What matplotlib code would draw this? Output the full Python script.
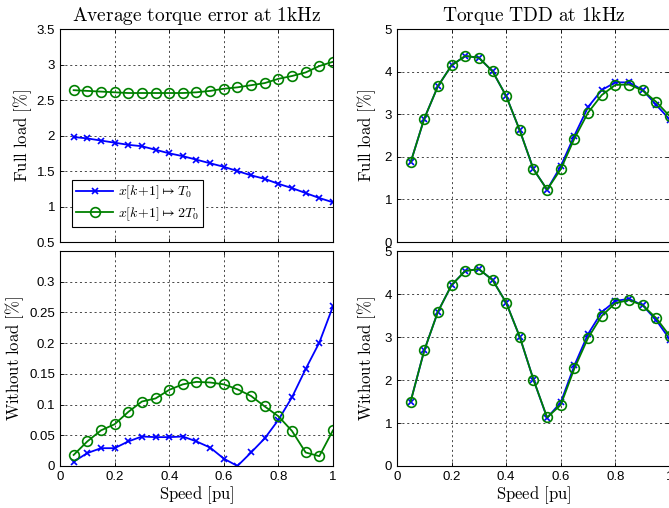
import matplotlib as mpl
import matplotlib.pyplot as plt
from matplotlib.ticker import FormatStrFormatter

# speed points [pu]
speed = [0.05, 0.10, 0.15, 0.20, 0.25, 0.30, 0.35, 0.40, 0.45, 0.50,
         0.55, 0.60, 0.65, 0.70, 0.75, 0.80, 0.85, 0.90, 0.95, 1.00]

# average torque error, full load [%]
err_full_t0 = [1.98, 1.96, 1.93, 1.90, 1.87, 1.85, 1.80, 1.75, 1.71, 1.66,
               1.61, 1.56, 1.50, 1.44, 1.39, 1.32, 1.26, 1.19, 1.12, 1.06]
err_full_2t0 = [2.64, 2.63, 2.62, 2.61, 2.60, 2.60, 2.60, 2.60, 2.60, 2.61,
                2.63, 2.66, 2.68, 2.71, 2.74, 2.80, 2.84, 2.89, 2.98, 3.04]

# average torque error, without load [%]
err_noload_t0 = [0.007, 0.021, 0.029, 0.029, 0.040, 0.048, 0.047, 0.047, 0.048, 0.040,
                 0.030, 0.012, 0.000, 0.022, 0.045, 0.075, 0.112, 0.158, 0.201, 0.260]
err_noload_2t0 = [0.018, 0.040, 0.058, 0.068, 0.088, 0.105, 0.110, 0.124, 0.133, 0.137,
                  0.136, 0.133, 0.125, 0.114, 0.097, 0.081, 0.057, 0.022, 0.016, 0.058]

# torque TDD, full load [%]
tdd_full_t0 = [1.87, 2.90, 3.66, 4.15, 4.37, 4.33, 4.01, 3.43, 2.62, 1.71,
               1.23, 1.78, 2.50, 3.17, 3.57, 3.75, 3.75, 3.57, 3.22, 2.87]
tdd_full_2t0 = [1.87, 2.90, 3.66, 4.15, 4.37, 4.33, 4.01, 3.43, 2.62, 1.71,
                1.23, 1.71, 2.43, 3.04, 3.45, 3.69, 3.70, 3.56, 3.29, 2.95]

# torque TDD, without load [%]
tdd_noload_t0 = [1.50, 2.69, 3.59, 4.21, 4.54, 4.58, 4.33, 3.80, 3.00, 2.01,
                 1.12, 1.48, 2.34, 3.07, 3.58, 3.84, 3.89, 3.74, 3.39, 2.94]
tdd_noload_2t0 = [1.50, 2.69, 3.59, 4.21, 4.54, 4.58, 4.33, 3.80, 3.00, 2.01,
                  1.13, 1.42, 2.27, 2.98, 3.49, 3.79, 3.86, 3.74, 3.44, 3.02]

C_T0 = "#0000FF"
C_2T0 = "#008000"

mpl.rcParams.update({
    "font.family": "Liberation Sans",
    "mathtext.fontset": "cm",
    "xtick.direction": "in",
    "ytick.direction": "in",
    "xtick.top": True,
    "ytick.right": True,
    "xtick.labelsize": 9.5,
    "ytick.labelsize": 9.5,
    "axes.linewidth": 0.8,
})


def style_axes(ax, show_xlabels):
    ax.grid(True, color="black", linestyle=(0, (3, 4)), linewidth=0.5)
    ax.set_xlim(0, 1)
    ax.set_xticks([0, 0.2, 0.4, 0.6, 0.8, 1])
    ax.xaxis.set_major_formatter(FormatStrFormatter("%g"))
    ax.yaxis.set_major_formatter(FormatStrFormatter("%g"))
    ax.tick_params(length=3, width=0.6)
    if show_xlabels:
        ax.set_xlabel(r"$\mathrm{Speed\ [pu]}$", fontsize=12, labelpad=1)
    else:
        ax.set_xticklabels([])


def plot_pair(ax, y_t0, y_2t0):
    ax.plot(speed, y_t0, color=C_T0, marker="x", markersize=5, mew=1.2, lw=1.3,
            label=r"$x[k\!+\!1] \mapsto T_0$")
    ax.plot(speed, y_2t0, color=C_2T0, marker="o", markersize=7, mfc="none", mew=1.2, lw=1.3,
            label=r"$x[k\!+\!1] \mapsto 2T_0$")


fig = plt.figure(figsize=(6.69, 5.08), dpi=100)
ax_tl = fig.add_axes([0.0897, 0.5236, 0.408, 0.419])
ax_tr = fig.add_axes([0.5934, 0.5236, 0.408, 0.419])
ax_bl = fig.add_axes([0.0897, 0.0827, 0.408, 0.423])
ax_br = fig.add_axes([0.5934, 0.0827, 0.408, 0.423])

plot_pair(ax_tl, err_full_t0, err_full_2t0)
style_axes(ax_tl, False)
ax_tl.set_ylim(0.5, 3.5)
ax_tl.set_yticks([0.5, 1, 1.5, 2, 2.5, 3, 3.5])
ax_tl.set_title(r"$\mathrm{Average\ torque\ error\ at\ 1kHz}$", fontsize=14, pad=6)
ax_tl.set_ylabel(r"$\mathrm{Full\ load\ [\%]}$", fontsize=12, labelpad=2)
leg = ax_tl.legend(loc="lower left", bbox_to_anchor=(0.045, 0.07), borderaxespad=0,
                   fontsize=10, fancybox=False, edgecolor="black", framealpha=1,
                   handlelength=2.6, handletextpad=0.4, borderpad=0.3, labelspacing=0.3)
leg.get_frame().set_linewidth(0.8)

plot_pair(ax_bl, err_noload_t0, err_noload_2t0)
style_axes(ax_bl, True)
ax_bl.set_ylim(0, 0.35)
ax_bl.set_yticks([0, 0.05, 0.1, 0.15, 0.2, 0.25, 0.3])
ax_bl.set_ylabel(r"$\mathrm{Without\ load\ [\%]}$", fontsize=12, labelpad=2)

plot_pair(ax_tr, tdd_full_t0, tdd_full_2t0)
style_axes(ax_tr, False)
ax_tr.set_ylim(0, 5)
ax_tr.set_yticks([0, 1, 2, 3, 4, 5])
ax_tr.set_title(r"$\mathrm{Torque\ TDD\ at\ 1kHz}$", fontsize=14, pad=6)
ax_tr.set_ylabel(r"$\mathrm{Full\ load\ [\%]}$", fontsize=12, labelpad=5)

plot_pair(ax_br, tdd_noload_t0, tdd_noload_2t0)
style_axes(ax_br, True)
ax_br.set_ylim(0, 5)
ax_br.set_yticks([0, 1, 2, 3, 4, 5])
ax_br.set_ylabel(r"$\mathrm{Without\ load\ [\%]}$", fontsize=12, labelpad=5)

fig.savefig("out.png", dpi=100)
